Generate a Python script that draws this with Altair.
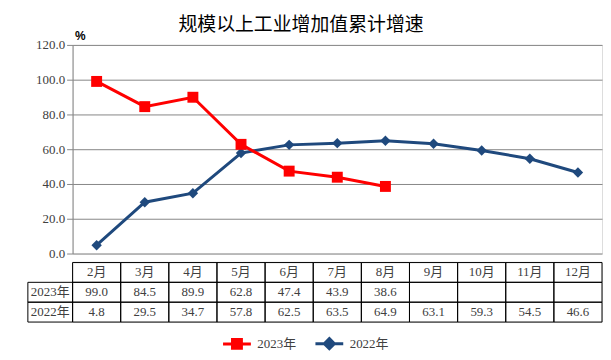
import altair as alt
import pandas as pd

months = ["2月", "3月", "4月", "5月", "6月", "7月", "8月", "9月", "10月", "11月", "12月"]
series = ["2023年", "2022年"]
v2023 = [99.0, 84.5, 89.9, 62.8, 47.4, 43.9, 38.6]
v2022 = [4.8, 29.5, 34.7, 57.8, 62.5, 63.5, 64.9, 63.1, 59.3, 54.5, 46.6]
yticks = [0, 20, 40, 60, 80, 100, 120]
rows = ["header", "2023年", "2022年"]

RED = "#FF0000"
NAVY = "#1F497D"
FONT = "Liberation Serif, Noto Sans CJK SC"
TXT = "#404040"

d23 = pd.DataFrame({"month": months[:len(v2023)], "value": v2023, "series": "2023年"})
d22 = pd.DataFrame({"month": months, "value": v2022, "series": "2022年"})

xs = alt.X("month:N", sort=months,
           scale=alt.Scale(type="point", domain=months, padding=0.5), axis=None)
ys = alt.Y("value:Q", scale=alt.Scale(domain=[0, 120], nice=False),
           axis=alt.Axis(values=yticks, format=".1f", grid=True, gridColor="#868686",
                         domainColor="#868686", tickColor="#868686", tickSize=6,
                         labelFont=FONT, labelFontSize=13, labelColor=TXT, labelPadding=2,
                         title="%", titleAngle=0, titleX=2, titleY=-2, titleAlign="left",
                         titleBaseline="bottom", titleFont="Liberation Sans",
                         titleFontSize=12, titleFontWeight="bold", titleColor="#000000"))

line22 = alt.Chart(d22).mark_line(color=NAVY, strokeWidth=3).encode(x=xs, y=ys)
pts22 = alt.Chart(d22).mark_point(shape="diamond", filled=True, size=110, color=NAVY,
                                  opacity=1).encode(x=xs, y=ys)
line23 = alt.Chart(d23).mark_line(color=RED, strokeWidth=3).encode(x=xs, y=ys)
pts23 = alt.Chart(d23).mark_point(shape="square", filled=True, size=121, color=RED,
                                  opacity=1).encode(x=xs, y=ys)

top = alt.layer(line22, pts22, line23, pts23).properties(width=533, height=210)

# table
recs = []
for i, m in enumerate(months):
    recs.append({"row": "header", "month": m, "label": m})
    recs.append({"row": "2023年", "month": m,
                 "label": f"{v2023[i]:.1f}" if i < len(v2023) else ""})
    recs.append({"row": "2022年", "month": m, "label": f"{v2022[i]:.1f}"})
table_df = pd.DataFrame(recs)
lab_df = pd.DataFrame({"row": series})

tx = alt.X("month:N", sort=months,
           scale=alt.Scale(type="band", domain=months, paddingInner=0, paddingOuter=0),
           axis=None)
ty = alt.Y("row:N", sort=rows,
           scale=alt.Scale(type="band", domain=rows, paddingInner=0, paddingOuter=0),
           axis=None)

cells = alt.Chart(table_df).mark_rect(fill="#ffffff", fillOpacity=0, stroke="#000000",
                                      strokeWidth=1).encode(x=tx, y=ty)
texts = alt.Chart(table_df).mark_text(font=FONT, fontSize=13, color=TXT).encode(
    x=tx, y=ty, text="label:N")
labcells = alt.Chart(lab_df).mark_rect(fill="#ffffff", fillOpacity=0, stroke="#000000",
                                       strokeWidth=1).encode(
    x=alt.value(-45), x2=alt.value(0), y=ty)
labtexts = alt.Chart(lab_df).mark_text(font=FONT, fontSize=13, color=TXT).encode(
    x=alt.value(-22.5), y=ty, text="row:N")

pathA = "M-2,0L2,0M-0.64,-0.64L0.64,-0.64L0.64,0.64L-0.64,0.64Z"
pathB = "M-2,0L2,0M0,-0.72L0.72,0L0,0.72L-0.72,0Z"
leg = alt.Legend(title=None, orient="none", legendX=157, legendY=292, direction="horizontal",
                 symbolSize=196, symbolStrokeWidth=3, labelFont=FONT, labelFontSize=13,
                 labelColor=TXT, labelOffset=12, columnPadding=12, padding=0)
legend_layer = alt.Chart(lab_df).mark_point(filled=True, opacity=1).encode(
    color=alt.Color("row:N", scale=alt.Scale(domain=series, range=[RED, NAVY]), legend=leg),
    stroke=alt.Stroke("row:N", scale=alt.Scale(domain=series, range=[RED, NAVY]), legend=leg),
    shape=alt.Shape("row:N", scale=alt.Scale(domain=series, range=[pathA, pathB]), legend=leg),
).transform_filter("false")

bottom = alt.layer(cells, texts, labcells, labtexts, legend_layer).properties(width=533, height=60)

chart = alt.vconcat(top, bottom, spacing=0).properties(
    title=alt.TitleParams("规模以上工业增加值累计增速", font="Noto Sans CJK SC", fontSize=19,
                          fontWeight="normal", color="#000000", anchor="middle",
                          offset=-5, dx=-14),
    padding={"left": 19, "top": 6, "right": 0, "bottom": 0},
).configure_view(strokeWidth=0).configure(background="#ffffff")

chart.save("out.html", embed_options={"renderer": "svg", "actions": False})
